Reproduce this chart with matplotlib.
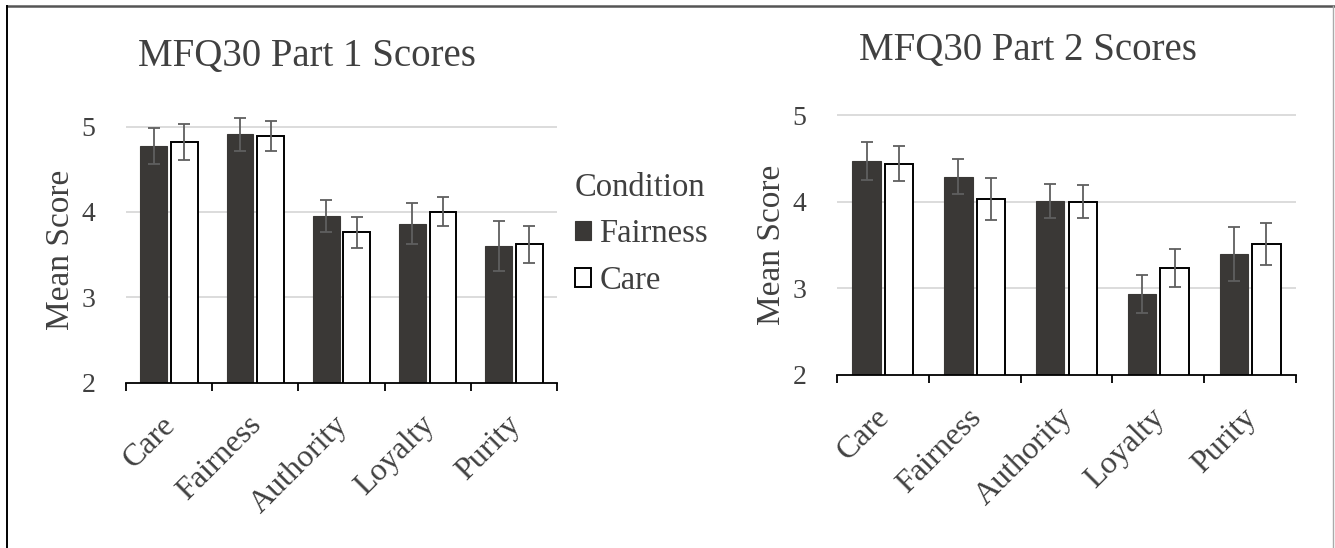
"""MFQ30 part 1 / part 2 mean scores by condition."""

import matplotlib
matplotlib.use("Agg")
import matplotlib.pyplot as plt
import matplotlib.transforms as mtransforms
from matplotlib.lines import Line2D
import numpy as np

plt.rcParams["font.family"] = ["Liberation Serif", "DejaVu Serif"]

categories = ["Care", "Fairness", "Authority", "Loyalty", "Purity"]
conditions = ["Fairness", "Care"]

part1_fairness = [4.77, 4.91, 3.95, 3.86, 3.60]
part1_fairness_err = [0.21, 0.19, 0.19, 0.24, 0.29]
part1_care = [4.82, 4.89, 3.76, 4.00, 3.62]
part1_care_err = [0.21, 0.18, 0.185, 0.17, 0.22]

part2_fairness = [4.47, 4.29, 4.01, 2.94, 3.40]
part2_fairness_err = [0.22, 0.20, 0.20, 0.22, 0.31]
part2_care = [4.44, 4.03, 4.00, 3.24, 3.51]
part2_care_err = [0.20, 0.245, 0.19, 0.22, 0.245]

yticks = [2, 3, 4, 5]

DARK = "#3a3836"
TEXT = "#404040"
ERR = "#5f5f5f"
GRID = "#d9d9d9"

W, H = 1335, 548
fig = plt.figure(figsize=(W / 100, H / 100), dpi=100)


def px_axes(x0, x1, y_bottom, y_top):
    return fig.add_axes([x0 / W, 1 - y_bottom / H, (x1 - x0) / W, (y_bottom - y_top) / H])


def draw_panel(ax, fair, fair_err, care, care_err, ytop):
    x = np.arange(len(categories))
    width = 0.31
    off = 0.178
    ekw = dict(ecolor=ERR, elinewidth=1.3, capsize=4.5, capthick=1.3)
    b1 = ax.bar(x - off, fair, width, bottom=0, color=DARK, edgecolor=DARK,
                linewidth=0.8, yerr=fair_err, error_kw=ekw, zorder=3, label=conditions[0])
    b2 = ax.bar(x + off, care, width, bottom=0, color="white", edgecolor="black",
                linewidth=1.4, yerr=care_err, error_kw=ekw, zorder=3, label=conditions[1])
    ax.set_xlim(-0.5, len(categories) - 0.5)
    ax.set_ylim(2, ytop)
    ax.set_yticks(yticks)
    ax.set_yticklabels([str(t) for t in yticks])
    for t in yticks[1:]:
        ax.axhline(t, color=GRID, lw=1.3, zorder=1)
    for s in ["top", "right", "left"]:
        ax.spines[s].set_visible(False)
    ax.spines["bottom"].set_color("black")
    ax.spines["bottom"].set_linewidth(1.3)
    ax.spines["bottom"].set_zorder(4)
    ax.tick_params(axis="y", length=0, pad=22, labelsize=20, labelcolor=TEXT)
    ax.set_xticks(x)
    ax.set_xticklabels(categories, rotation=45, ha="right", va="top",
                       rotation_mode="anchor", fontsize=23, color=TEXT)
    ax.tick_params(axis="x", which="major", length=0, pad=20)
    shift = mtransforms.ScaledTranslation(-8 / 100, 0, fig.dpi_scale_trans)
    for lab in ax.get_xticklabels():
        lab.set_transform(lab.get_transform() + shift)
    ax.set_xticks(np.arange(-0.5, len(categories), 1.0), minor=True)
    ax.tick_params(axis="x", which="minor", length=6, width=1.3, color="black")
    ax.set_ylabel("Mean Score", fontsize=24, color=TEXT)
    return b1, b2


ax1 = px_axes(126, 557, 382.7, 101)
b1, b2 = draw_panel(ax1, part1_fairness, part1_fairness_err, part1_care, part1_care_err, 5.3)
ax1.yaxis.set_label_coords((76 - 126) / 431, 0.47)

ax2 = px_axes(837, 1296, 375, 98)
draw_panel(ax2, part2_fairness, part2_fairness_err, part2_care, part2_care_err, 5.2)
ax2.yaxis.set_label_coords((787 - 837) / 459, 0.47)

fig.text(307 / W, 1 - 57 / H, "MFQ30 Part 1 Scores", ha="center", va="center",
         fontsize=28, color=TEXT)
fig.text(1028 / W, 1 - 50 / H, "MFQ30 Part 2 Scores", ha="center", va="center",
         fontsize=28, color=TEXT)

leg = fig.legend(handles=[b1, b2], labels=conditions, title="Condition",
                 loc="upper left", bbox_to_anchor=(562 / W, 1 - 159 / H),
                 frameon=False, fontsize=23.5, title_fontsize=23.5,
                 handlelength=0.5, handleheight=0.5, handletextpad=0.25,
                 labelspacing=0.5, borderaxespad=0)
leg._legend_box.align = "left"
leg.get_title().set_color(TEXT)
for t in leg.get_texts():
    t.set_color(TEXT)

# outer frame of the figure
fig.add_artist(Line2D([7 / W, 1334 / W], [1 - 6 / H, 1 - 6 / H], color="#555555", lw=1.8))
fig.add_artist(Line2D([7 / W, 7 / W], [0, 1 - 6 / H], color="black", lw=1.4))
fig.add_artist(Line2D([1333 / W, 1333 / W], [0, 1 - 6 / H], color="#aaaaaa", lw=1.0))

fig.savefig("out.png", dpi=100)
